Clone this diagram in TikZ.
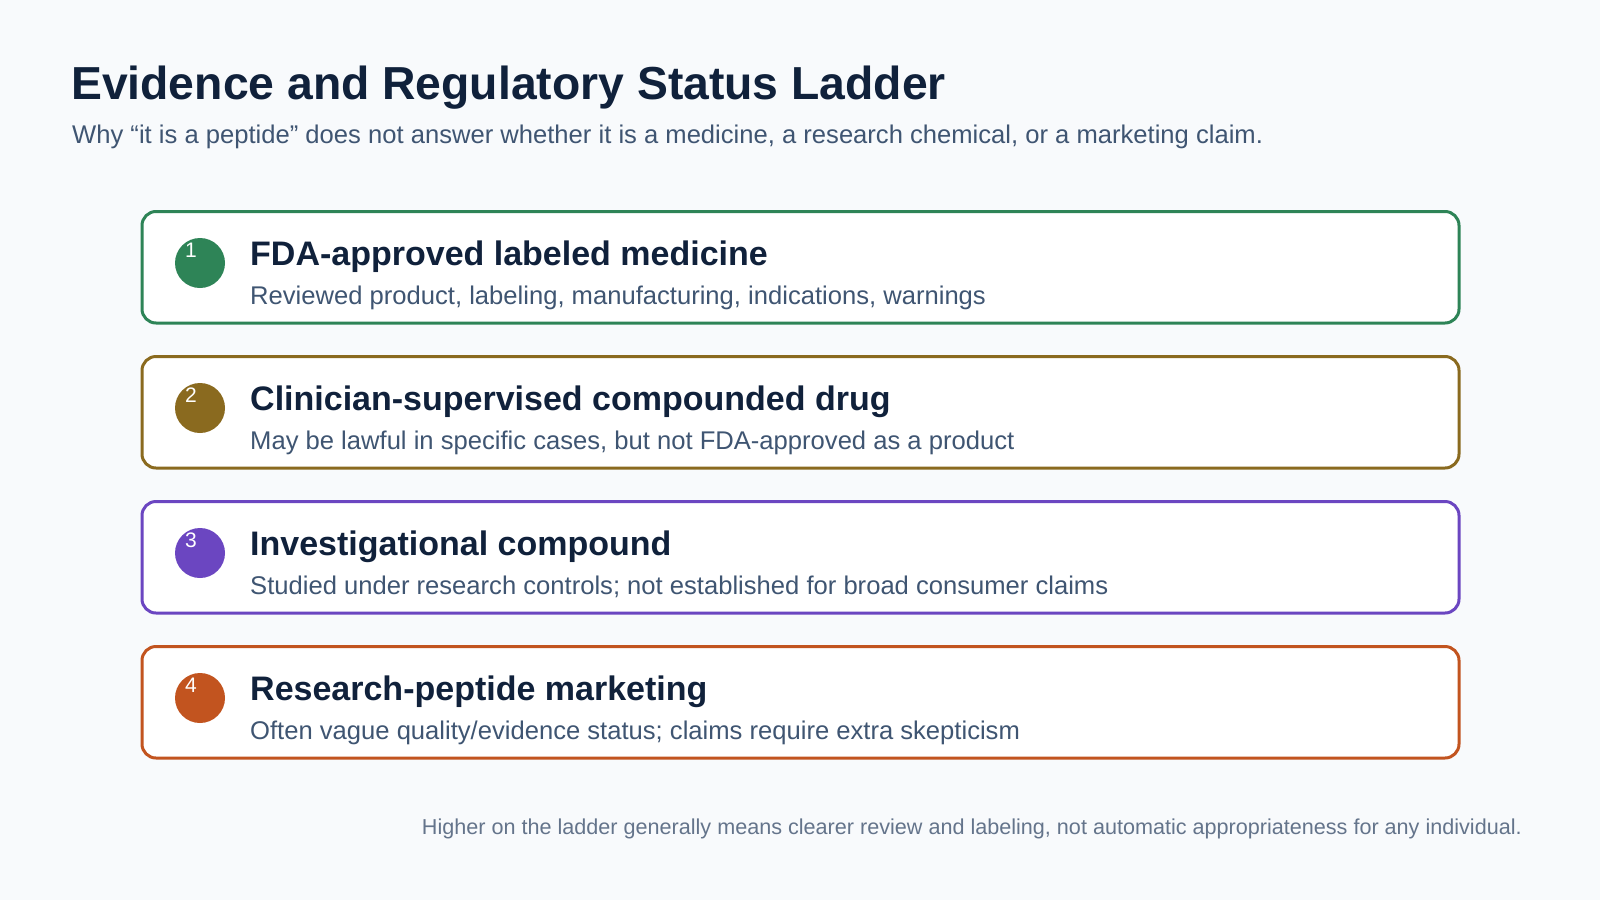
\documentclass[tikz,border=0pt]{standalone}
\usepackage{fontspec}
\setmainfont{Liberation Sans}
\definecolor{bg}{HTML}{F8FAFC}
\definecolor{titlec}{HTML}{10213B}
\definecolor{subc}{HTML}{3F5572}
\definecolor{footc}{HTML}{64748B}
\definecolor{cgreen}{HTML}{2E8457}
\definecolor{colive}{HTML}{8A6A1F}
\definecolor{cpurple}{HTML}{6B46C1}
\definecolor{corange}{HTML}{C2541F}
\tikzset{
  stepbox/.style={draw=#1, line width=3pt, rounded corners=14pt, fill=white, minimum width=1317pt, minimum height=111.5pt, inner sep=0pt, outer sep=0pt, anchor=north west},
  badge/.style={circle, fill=#1, minimum size=50pt, inner sep=0pt, outer sep=0pt},
  numtext/.style={anchor=base west, inner sep=0pt, text=white, font=\fontsize{21}{24}\selectfont},
  steptitle/.style={anchor=base west, inner sep=0pt, text=titlec, font=\fontsize{34}{38}\selectfont\bfseries},
  stepsub/.style={anchor=base west, inner sep=0pt, text=subc, font=\fontsize{25.6}{28}\selectfont},
}
\begin{document}
\begin{tikzpicture}[x=1pt,y=-1pt]
\useasboundingbox (0,0) rectangle (1600,900);
\fill[bg] (0,0) rectangle (1600,900);
\node[anchor=base west, inner sep=0pt, text=titlec, font=\fontsize{46.3}{52}\selectfont\bfseries] (title) at (71,99) {Evidence and Regulatory Status Ladder};
\node[anchor=base west, inner sep=0pt, text=subc, font=\fontsize{25.6}{28}\selectfont] (subtitle) at (72,143) {Why “it is a peptide” does not answer whether it is a medicine, a research chemical, or a marketing claim.};
\foreach \i/\c/\t/\s in {1/cgreen/{FDA-approved labeled medicine}/{Reviewed product, labeling, manufacturing, indications, warnings},
  2/colive/{Clinician-supervised compounded drug}/{May be lawful in specific cases, but not FDA-approved as a product},
  3/cpurple/{Investigational compound}/{Studied under research controls; not established for broad consumer claims},
  4/corange/{Research-peptide marketing}/{Often vague quality/evidence status; claims require extra skepticism}}{
  \pgfmathsetmacro{\T}{211.5+145*(\i-1)}
  \node[stepbox=\c] (box\i) at (142,\T) {};
  \node[badge=\c] (badge\i) at (200,\T+51.5) {};
  \node[numtext] (num\i) at (185,\T+45.5) {\i};
  \node[steptitle] (title\i) at (250,\T+53.5) {\t};
  \node[stepsub] (sub\i) at (250,\T+92.5) {\s};
}
\node[anchor=base east, inner sep=0pt, text=footc, font=\fontsize{21.6}{24}\selectfont] (foot) at (1522,834) {Higher on the ladder generally means clearer review and labeling, not automatic appropriateness for any individual.};
\end{tikzpicture}
\end{document}
